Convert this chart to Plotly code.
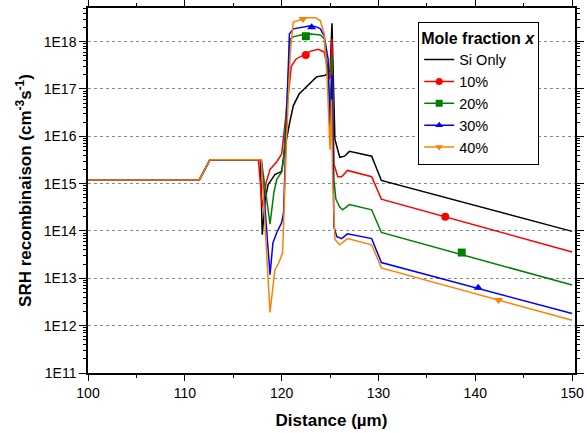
import numpy as np
import plotly.graph_objects as go

# ---- data ----
si_x = [100, 111.5, 112.6, 117.8, 118.0, 118.3, 118.6, 119.3, 120.0, 120.3, 120.8, 121.2, 121.8,
        122.6, 123.6, 124.5, 125.0, 125.2, 125.5, 126.0, 126.5, 127.0, 129.3, 130.3, 150]
si_y = [1.2e15, 1.2e15, 3.2e15, 3.2e15, 8.3e13, 4.7e14, 9.5e14, 1.55e15, 1.8e15, 5.2e15, 1.8e16, 4.4e16, 7.8e16,
        1.15e17, 1.8e17, 1.95e17, 2.4e17, 2.45e18, 8.7e15, 3.6e15, 3.8e15, 4.8e15, 3.8e15, 1.17e15, 9.8e13]

x10_x = [100, 111.5, 112.6, 117.6, 118.0, 118.4, 118.8, 119.5, 120.0, 121.0, 121.5, 122.2, 123.0,
         123.8, 124.4, 124.8, 125.0, 125.2, 125.4, 125.8, 126.2, 126.8, 129.3, 130.3, 150]
x10_y = [1.2e15, 1.2e15, 3.2e15, 3.2e15, 3.2e14, 1.05e15, 2.0e15, 2.9e15, 4.2e15, 3.0e17, 4.3e17, 5.2e17, 6.3e17,
         6.9e17, 6.0e17, 2.4e17, 1.6e17, 1.15e18, 2.6e15, 1.4e15, 1.4e15, 1.9e15, 1.4e15, 4.7e14, 3.6e13]

x20_x = [100, 111.5, 112.6, 117.9, 118.8, 119.2, 119.5, 120.0, 120.2, 120.9, 121.2, 122.0, 123.0,
         124.0, 124.4, 124.8, 125.0, 125.2, 125.4, 125.6, 126.0, 126.3, 127.0, 129.3, 130.3, 150]
x20_y = [1.2e15, 1.2e15, 3.2e15, 3.2e15, 1.4e14, 6.5e14, 1.23e15, 1.75e15, 3.2e15, 1.15e18, 1.26e18, 1.38e18, 1.45e18,
         1.38e18, 1.15e18, 2.0e17, 3.7e16, 4.9e17, 1.23e15, 4.7e14, 3.2e14, 2.8e14, 3.6e14, 2.8e14, 9.3e13, 7.2e12]

x30_x = [100, 111.5, 112.6, 117.9, 118.8, 119.1, 119.5, 120.0, 120.2, 120.8, 121.2, 122.3, 123.0,
         123.6, 124.0, 124.4, 124.8, 125.0, 125.2, 125.4, 125.7, 126.2, 126.8, 129.3, 130.3, 150]
x30_y = [1.2e15, 1.2e15, 3.2e15, 3.2e15, 1.2e13, 5.6e13, 9.3e13, 1.5e14, 2.45e14, 1.45e18, 1.86e18, 2.05e18, 2.15e18,
         2.05e18, 1.86e18, 1.3e18, 4.3e17, 1.0e16, 2.0e17, 1.23e14, 7.6e13, 6.9e13, 8.7e13, 6.9e13, 2.15e13, 1.8e12]

x40_x = [100, 111.5, 112.6, 117.9, 118.8, 119.0, 119.3, 119.7, 120.1, 120.5, 120.9, 121.2, 122.0, 122.6,
         123.5, 124.0, 124.4, 124.7, 125.0, 125.15, 125.25, 125.5, 126.0, 126.8, 129.3, 130.3, 150]
x40_y = [1.2e15, 1.2e15, 3.2e15, 3.2e15, 1.9e12, 4.9e12, 1.5e13, 2.1e13, 3.5e13, 8.0e15, 6.3e17, 2.6e18, 2.9e18, 3.2e18,
         3.2e18, 2.75e18, 1.45e18, 1.6e17, 5.2e15, 6.0e16, 1.7e15, 6.6e13, 5.1e13, 6.9e13, 5.1e13, 1.66e13, 1.3e12]

# marker positions (one near the peak, one on the tail)
x10_mx = [122.5, 136.9]; x10_my = [5.2e17, 2.0e14]
x20_mx = [122.5, 138.6]; x20_my = [1.3e18, 3.5e13]
x30_mx = [123.1, 140.3]; x30_my = [2.0e18, 6.3e12]
x40_mx = [122.2, 142.4]; x40_my = [3.0e18, 3.5e12]

names = ["Si Only", "10%", "20%", "30%", "40%"]
colors = ["#000000", "#FF0000", "#008000", "#0000FF", "#FF8000"]
symbols = [None, "circle", "square", "triangle-up", "triangle-down"]

ytick_exp = [11, 12, 13, 14, 15, 16, 17, 18]
ytick_text = ["1E%d" % e for e in ytick_exp]

series = [(si_x, si_y, None, None), (x10_x, x10_y, x10_mx, x10_my), (x20_x, x20_y, x20_mx, x20_my),
          (x30_x, x30_y, x30_mx, x30_my), (x40_x, x40_y, x40_mx, x40_my)]

fig = go.Figure()
for (xs, ys, mx, my), name, col, sym in zip(series, names, colors, symbols):
    fig.add_trace(go.Scatter(x=xs, y=ys, mode="lines", line=dict(color=col, width=1.5),
                             showlegend=False, hoverinfo="skip"))
    if mx is not None:
        fig.add_trace(go.Scatter(x=mx, y=my, mode="markers",
                                 marker=dict(color=col, symbol=sym, size=8), showlegend=False))
# legend entries
for name, col, sym in zip(names, colors, symbols):
    if sym is None:
        fig.add_trace(go.Scatter(x=[None], y=[None], mode="lines", name=name,
                                 line=dict(color=col, width=1.5)))
    else:
        fig.add_trace(go.Scatter(x=[None], y=[None], mode="lines+markers", name=name,
                                 line=dict(color=col, width=1.5),
                                 marker=dict(color=col, symbol=sym, size=7)))

FONT = "Arial, 'Liberation Sans', sans-serif"
minor_vals = [m * 10.0 ** e for e in range(11, 19) for m in range(2, 10)]

fig.update_layout(
    width=587, height=433,
    margin=dict(l=88, r=12, t=8, b=60),
    plot_bgcolor="white", paper_bgcolor="white",
    font=dict(family=FONT, color="black"),
    legend=dict(
        title=dict(text="<b>Mole fraction <i>x</i></b>", font=dict(size=16, family=FONT)),
        font=dict(size=14.5, family=FONT),
        x=0.678, y=0.962, xanchor="left", yanchor="top",
        bordercolor="black", borderwidth=1, bgcolor="white",
        tracegroupgap=0,
    ),
    xaxis=dict(
        range=[100, 150.3], tickmode="linear", tick0=100, dtick=10,
        ticks="outside", ticklen=6, tickcolor="black", automargin=False,
        minor=dict(dtick=5, tick0=100, ticks="outside", ticklen=3, tickcolor="black", showgrid=False),
        showline=True, linecolor="black", linewidth=1.5, mirror="ticks",
        showgrid=False, zeroline=False,
        tickfont=dict(size=14, family=FONT),
        title=dict(text="<b>Distance (µm)</b>", font=dict(size=17, family=FONT), standoff=15),
    ),
    yaxis=dict(
        type="log", range=[11, 18.71], automargin=False,
        tickmode="array", tickvals=[10.0 ** e for e in ytick_exp], ticktext=ytick_text,
        ticks="outside", ticklen=7, tickcolor="black",
        minor=dict(tickmode="array", tickvals=minor_vals, ticks="outside", ticklen=3,
                   tickcolor="black", showgrid=False),
        showline=True, linecolor="black", linewidth=1.5, mirror="ticks",
        showgrid=True, gridcolor="#888888", griddash="dot", gridwidth=1,
        zeroline=False,
        tickfont=dict(size=14, family=FONT),
        title=dict(text="<b>SRH recombinaison (cm<sup>-3</sup>s<sup>-1</sup>)</b>",
                   font=dict(size=17, family=FONT), standoff=8),
    ),
)

fig.write_html("out.html", config={"displayModeBar": False},
               post_script="document.body.style.margin='0';")
